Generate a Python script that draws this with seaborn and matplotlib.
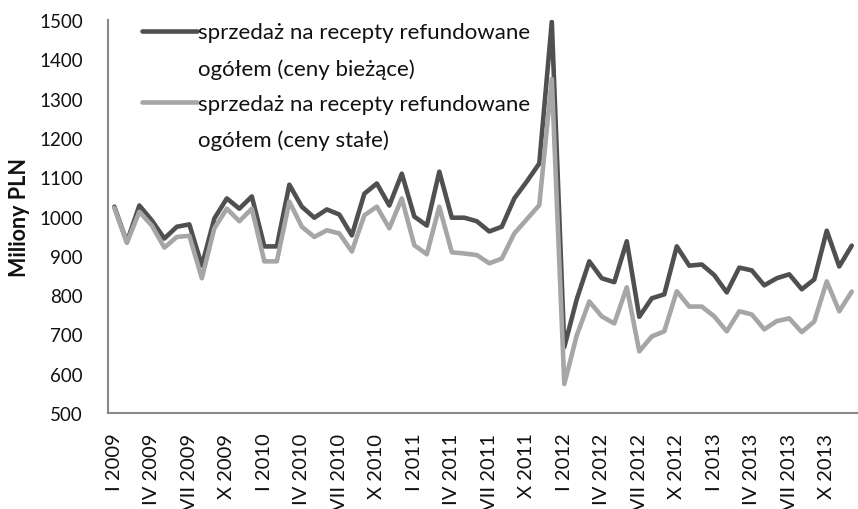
import numpy as np
import pandas as pd
import matplotlib.pyplot as plt
import seaborn as sns
from matplotlib.lines import Line2D

# monthly values, I 2009 - XII 2013 (mln PLN)
roman = ["I", "II", "III", "IV", "V", "VI", "VII", "VIII", "IX", "X", "XI", "XII"]
years = [2009, 2010, 2011, 2012, 2013]
months = [f"{m} {y}" for y in years for m in roman]

current_prices = [
    1025, 935, 1028, 990, 944, 974, 980, 875, 995, 1046, 1020, 1051,
    924, 924, 1081, 1025, 997, 1018, 1005, 952, 1058, 1084, 1028, 1109,
    1000, 977, 1114, 997, 997, 988, 962, 974, 1046, 1089, 1135, 1495,
    668, 790, 886, 843, 833, 937, 745, 792, 802, 924, 875, 878,
    851, 807, 870, 863, 825, 843, 853, 815, 840, 964, 873, 926,
]
constant_prices = [
    1022, 933, 1012, 977, 921, 948, 951, 843, 970, 1020, 988, 1020,
    886, 886, 1038, 974, 948, 965, 957, 911, 1003, 1025, 970, 1046,
    927, 904, 1025, 909, 906, 902, 881, 893, 957, 993, 1029, 1350,
    574, 698, 784, 746, 728, 820, 657, 695, 708, 810, 771, 771,
    746, 708, 759, 751, 713, 734, 741, 706, 733, 835, 759, 809,
]

label_cur = "sprzedaż na recepty refundowane\nogółem (ceny bieżące)"
label_const = "sprzedaż na recepty refundowane\nogółem (ceny stałe)"

df = pd.DataFrame({
    "idx": list(range(len(months))) * 2,
    "value": current_prices + constant_prices,
    "series": [label_cur] * len(months) + [label_const] * len(months),
})

sns.set_style("white")
plt.rcParams["font.family"] = ["Lato", "DejaVu Sans"]

fig = plt.figure(figsize=(8.58, 5.10), dpi=100)
ax = fig.add_axes([0.126, 0.188, 0.874, 0.771])

sns.lineplot(data=df, x="idx", y="value", hue="series",
             palette=["#505050", "#a6a6a6"], linewidth=3.3, ax=ax)

ax.set_xlim(-0.5, len(months) - 0.5)
ax.set_ylim(500, 1500)
ax.set_yticks(range(500, 1501, 100))
ax.tick_params(axis="y", labelsize=13.5, length=5, color="#888888", width=1.2,
               pad=13, labelcolor="#111111")

ax.set_xticks(range(0, len(months), 3))
ax.set_xticklabels(months[::3], rotation=90, fontsize=14.5, color="#111111")
ax.set_xticks(np.arange(-0.5, len(months), 1), minor=True)
ax.tick_params(axis="x", which="major", length=0, pad=14)
ax.tick_params(axis="x", which="minor", length=6, color="#888888", width=1.2)

ax.set_xlabel("")
ax.set_ylabel("Miliony PLN", fontsize=15.5, fontweight="bold", labelpad=7,
              color="#111111")

for s in ["top", "right"]:
    ax.spines[s].set_visible(False)
for s in ["left", "bottom"]:
    ax.spines[s].set_color("#888888")
    ax.spines[s].set_linewidth(1.5)

# legend: line sample next to the first row of each two-row label
old = ax.get_legend()
handles, labels = [], []
for h, t in zip(old.legend_handles, old.get_texts()):
    first, second = t.get_text().split("\n")
    handles += [h, Line2D([], [], color="none")]
    labels += [first, second]
old.remove()

leg = ax.legend(handles, labels, loc="upper left", bbox_to_anchor=(0.039, 1.005),
                frameon=False, fontsize=16, handlelength=2.5,
                handletextpad=0.05, labelspacing=0.7, borderaxespad=0,
                borderpad=0.2)
for t in leg.get_texts():
    t.set_color("#111111")

fig.savefig("out.png", dpi=100)
